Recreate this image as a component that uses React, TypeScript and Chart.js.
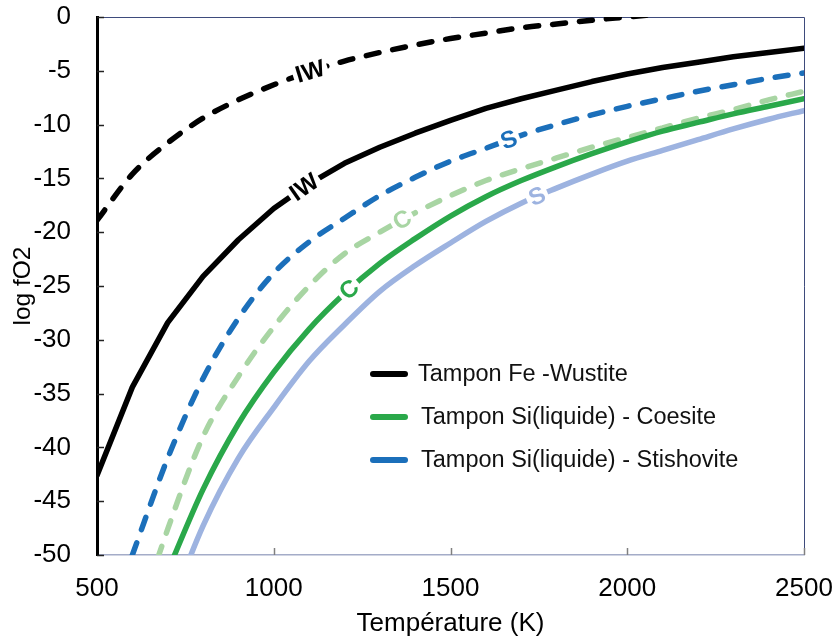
import React, { useEffect, useRef } from "react";
import { Chart, registerables } from "chart.js";

Chart.register(...registerables);

const FONT = "'Liberation Sans', Arial, Helvetica, sans-serif";

// Temperature (K)
const temperatures = [500, 600, 700, 800, 900, 1000, 1100, 1200, 1300, 1400, 1500, 1600, 1700, 1800, 1900, 2000, 2100, 2200, 2300, 2400, 2500];

// log fO2 values
const ironWustiteSolid = [-42.6, -34.4, -28.4, -24.1, -20.7, -17.8, -15.5, -13.6, -12.1, -10.8, -9.6, -8.5, -7.6, -6.8, -6.0, -5.3, -4.7, -4.2, -3.7, -3.3, -2.9];
const ironWustiteDashed = [-18.9, -14.6, -11.7, -9.4, -7.7, -6.3, -5.1, -4.1, -3.3, -2.6, -2.0, -1.5, -1.0, -0.65, -0.3, 0.0, 0.3, 0.6, null, null, null];
const stishoviteDashed = [null, -50.0, -41.0, -33.6, -28.0, -23.8, -20.9, -18.7, -16.6, -14.9, -13.4, -12.2, -11.0, -10.0, -9.1, -8.3, -7.6, -6.9, -6.3, -5.7, -5.2];
const coesiteDashed = [null, -57.5, -47.6, -39.0, -33.4, -28.8, -25.0, -22.0, -20.0, -18.2, -16.6, -15.2, -14.1, -13.1, -12.1, -11.2, -10.3, -9.4, -8.6, -7.7, -6.9];
const coesiteSolid = [null, null, -51.5, -43.9, -37.8, -33.0, -29.0, -25.7, -22.9, -20.6, -18.5, -16.7, -15.2, -13.9, -12.7, -11.6, -10.6, -9.8, -9.0, -8.3, -7.6];
const stishoviteSolid = [null, null, -55.5, -47.3, -41.0, -36.3, -32.0, -28.6, -25.5, -23.1, -21.0, -19.0, -17.3, -15.9, -14.6, -13.4, -12.4, -11.4, -10.4, -9.5, -8.7];

// Legend
const legendLabels = ["Tampon Fe -Wustite", "Tampon Si(liquide) - Coesite", "Tampon Si(liquide) - Stishovite"];
const legendColors = ["#000000", "#2aa84a", "#1b6fba"];

// Curve labels
const curveLabelTexts = ["IW", "IW", "S", "C", "C", "S"];
const curveLabelSeries = ["ironWustiteDashed", "ironWustiteSolid", "stishoviteDashed", "coesiteDashed", "coesiteSolid", "stishoviteSolid"];
const curveLabelTemps = [1103, 1086, 1665, 1363, 1213, 1745];

const COLORS: Record<string, string> = {
  ironWustiteSolid: "#000000",
  ironWustiteDashed: "#000000",
  stishoviteDashed: "#1b6fba",
  coesiteDashed: "#a8d5a3",
  coesiteSolid: "#2aa84a",
  stishoviteSolid: "#9db3e0",
};

function pts(values: (number | null)[]) {
  return temperatures.map((t, i) => ({ x: t, y: values[i] }));
}

const decorPlugin = {
  id: "decor",
  beforeDatasetsDraw(chart: any) {
    const { ctx, chartArea, scales } = chart;
    const { left, right, top, bottom } = chartArea;
    const x = scales.x;
    const y = scales.y;
    ctx.save();
    ctx.strokeStyle = "#3e4b7c";
    ctx.lineWidth = 1;
    ctx.beginPath();
    ctx.moveTo(left, top + 0.5);
    ctx.lineTo(right + 0.5, top + 0.5);
    ctx.lineTo(right + 0.5, bottom);
    ctx.stroke();
    ctx.strokeStyle = "#808080";
    ctx.lineWidth = 1.5;
    x.ticks.forEach((t: any) => {
      if (t.value === x.min) return;
      const px = Math.round(x.getPixelForValue(t.value)) + 0.5;
      ctx.beginPath();
      ctx.moveTo(px, bottom);
      ctx.lineTo(px, bottom - 7);
      ctx.stroke();
    });
    ctx.strokeStyle = "#222222";
    y.ticks.forEach((t: any) => {
      const py = Math.round(y.getPixelForValue(t.value)) + 0.5;
      ctx.beginPath();
      ctx.moveTo(left, py);
      ctx.lineTo(left + 7, py);
      ctx.stroke();
    });
    ctx.restore();
  },
  afterDatasetsDraw(chart: any) {
    const { ctx, scales } = chart;
    const x = scales.x;
    const y = scales.y;
    ctx.save();
    curveLabelTexts.forEach((text, k) => {
      const dsIndex = chart.data.datasets.findIndex((d: any) => d.key === curveLabelSeries[k]);
      if (dsIndex < 0) return;
      const ds = chart.data.datasets[dsIndex];
      const data = ds.data as { x: number; y: number | null }[];
      const T = curveLabelTemps[k];
      for (let i = 0; i < data.length - 1; i++) {
        const a = data[i];
        const b = data[i + 1];
        if (a.y == null || b.y == null) continue;
        if (T < a.x || T > b.x) continue;
        const x0 = x.getPixelForValue(a.x);
        const y0 = y.getPixelForValue(a.y);
        const x1 = x.getPixelForValue(b.x);
        const y1 = y.getPixelForValue(b.y);
        const f = (T - a.x) / (b.x - a.x);
        const px = x0 + (x1 - x0) * f;
        const py = y0 + (y1 - y0) * f;
        const ang = Math.atan2(y1 - y0, x1 - x0);
        ctx.save();
        ctx.translate(px, py);
        ctx.rotate(ang);
        ctx.font = `bold 24px ${FONT}`;
        const w = ctx.measureText(text).width + 6;
        ctx.fillStyle = "#ffffff";
        ctx.fillRect(-w / 2, -9, w, 18);
        ctx.fillStyle = ds.borderColor;
        ctx.textAlign = "center";
        ctx.textBaseline = "middle";
        ctx.fillText(text, 0, 1);
        ctx.restore();
        break;
      }
    });
    const rowsY = [374, 417, 460];
    const textX = [418, 421, 421];
    legendLabels.forEach((label, i) => {
      ctx.strokeStyle = legendColors[i];
      ctx.lineWidth = 6;
      ctx.lineCap = "round";
      ctx.beginPath();
      ctx.moveTo(373, rowsY[i]);
      ctx.lineTo(405, rowsY[i]);
      ctx.stroke();
      ctx.fillStyle = "#111111";
      ctx.font = `23.5px ${FONT}`;
      ctx.textAlign = "left";
      ctx.textBaseline = "middle";
      ctx.fillText(label, textX[i], rowsY[i] + 1);
    });
    ctx.restore();
  },
};

export default function App() {
  const ref = useRef<HTMLCanvasElement | null>(null);
  useEffect(() => {
    if (!ref.current) return;
    const dash = [13, 14];
    const mk = (key: string, values: (number | null)[], dashed: boolean, straight = false) => ({
      key,
      label: key,
      data: pts(values),
      borderColor: COLORS[key],
      backgroundColor: COLORS[key],
      borderWidth: 5.5,
      borderDash: dashed ? dash : [],
      borderCapStyle: "round",
      borderJoinStyle: "round",
      pointRadius: 0,
      fill: false,
      tension: 0,
      cubicInterpolationMode: straight ? "default" : "monotone",
      spanGaps: false,
    });
    const chart = new Chart(ref.current, {
      type: "line",
      data: {
        datasets: [
          mk("stishoviteSolid", stishoviteSolid, false),
          mk("coesiteSolid", coesiteSolid, false),
          mk("coesiteDashed", coesiteDashed, true),
          mk("stishoviteDashed", stishoviteDashed, true),
          mk("ironWustiteSolid", ironWustiteSolid, false, true),
          mk("ironWustiteDashed", ironWustiteDashed, true),
        ] as any,
      },
      options: {
        animation: false,
        responsive: false,
        maintainAspectRatio: false,
        layout: { padding: { top: 17, right: 31, bottom: 0, left: 0 } },
        plugins: { legend: { display: false }, tooltip: { enabled: false } },
        scales: {
          x: {
            type: "linear",
            min: 500,
            max: 2500,
            afterFit: (s: any) => {
              s.height = 86;
              s.paddingLeft = 0;
              s.paddingRight = 0;
            },
            grid: { display: false, drawTicks: false },
            border: { display: true, color: "#a4acc8", width: 1.5 },
            ticks: {
              stepSize: 500,
              padding: 18,
              color: "#000",
              font: { family: FONT, size: 26 },
              callback: (v: any) => String(v),
            },
            title: {
              display: true,
              text: "Température (K)",
              color: "#000",
              font: { family: FONT, size: 26 },
              padding: { top: 0, bottom: 2 },
            },
          },
          y: {
            type: "linear",
            min: -50,
            max: 0,
            afterFit: (s: any) => {
              s.width = 97;
              s.paddingTop = 0;
              s.paddingBottom = 0;
            },
            grid: { display: false, drawTicks: false },
            border: { display: true, color: "#000", width: 3 },
            ticks: {
              stepSize: 5,
              padding: 26,
              color: "#000",
              font: { family: FONT, size: 26 },
              callback: (v: any) => String(v),
            },
            title: {
              display: true,
              text: "log fO2",
              color: "#000",
              font: { family: FONT, size: 24.5 },
              padding: { top: 9, bottom: 0 },
            },
          },
        },
      } as any,
      plugins: [decorPlugin],
    });
    return () => chart.destroy();
  }, []);
  return (
    <div style={{ position: "absolute", left: 0, top: 0, width: 835, height: 641, background: "#fff" }}>
      <canvas ref={ref} width={835} height={641} style={{ display: "block" }} />
    </div>
  );
}
